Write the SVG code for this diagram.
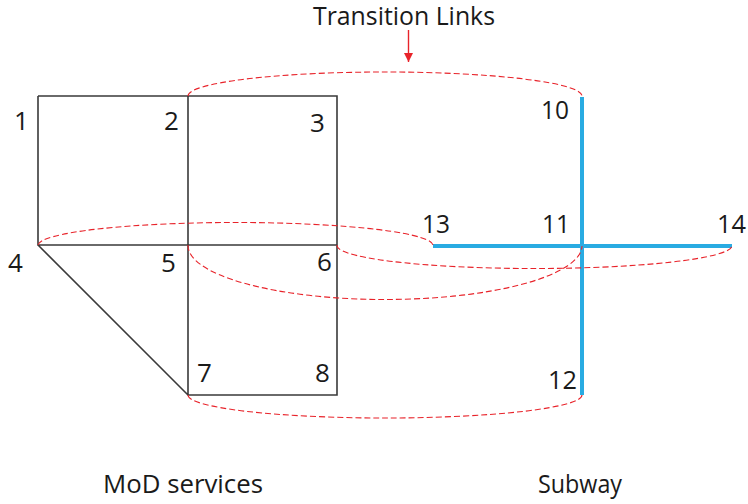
<svg xmlns="http://www.w3.org/2000/svg" width="748" height="504" viewBox="0 0 748 504">
  <style>
    .lbl { font-family: "Open Sans", "Noto Sans", "Liberation Sans", sans-serif; font-size: 26px; fill: #1a1a1a; }
    .mod { fill: none; stroke: #3a3a3a; stroke-width: 1.6; }
    .sub { fill: none; stroke: #29abe2; stroke-width: 4; }
    .link { fill: none; stroke: #e8232a; stroke-width: 1.1; stroke-dasharray: 6 3; }
  </style>
  <defs>
    <marker id="arrowRed" markerWidth="10" markerHeight="9" refX="9" refY="4.5" orient="auto" markerUnits="userSpaceOnUse">
      <path d="M0,0 L9,4.5 L0,9 Z" fill="#e8232a"/>
    </marker>
  </defs>
  <rect width="748" height="504" fill="#ffffff"/>

  <!-- MoD service network -->
  <g id="mod-network">
    <path class="mod" d="M38,96 H337 V395 H188 V96 M38,96 V245 H337 M38,245 L188,395"/>
  </g>

  <!-- Subway network -->
  <g id="subway-network">
    <path class="sub" d="M582,97 V395 M433,246 H732"/>
  </g>

  <!-- Transition links between the two layers -->
  <g id="transition-links">
    <path class="link" d="M188,96 A197,24 0 0 1 582,96"/>
    <path class="link" d="M38,245 A197.5,23 0 0 1 433,246"/>
    <path class="link" d="M188,245 A197,54 0 0 0 582,246"/>
    <path class="link" d="M337,245 A197.5,23 0 0 0 732,246"/>
    <path class="link" d="M188,395 A197,23 0 0 0 582,395"/>
  </g>

  <!-- Callout -->
  <g id="callout">
    <text class="lbl" x="404" y="25" font-size="22" text-anchor="middle" textLength="182" lengthAdjust="spacingAndGlyphs">Transition Links</text>
    <line x1="408.5" y1="30" x2="408.5" y2="62" stroke="#e8232a" stroke-width="1.4" marker-end="url(#arrowRed)"/>
  </g>

  <!-- Node labels -->
  <g id="node-1"><text class="lbl" x="14" y="130">1</text></g>
  <g id="node-2"><text class="lbl" x="164" y="130">2</text></g>
  <g id="node-3"><text class="lbl" x="310" y="132">3</text></g>
  <g id="node-4"><text class="lbl" x="8" y="272">4</text></g>
  <g id="node-5"><text class="lbl" x="161" y="272">5</text></g>
  <g id="node-6"><text class="lbl" x="317" y="271">6</text></g>
  <g id="node-7"><text class="lbl" x="197" y="382">7</text></g>
  <g id="node-8"><text class="lbl" x="315" y="382">8</text></g>
  <g id="node-10"><text class="lbl" x="541" y="119" textLength="28" lengthAdjust="spacingAndGlyphs">10</text></g>
  <g id="node-11"><text class="lbl" x="542" y="233" textLength="28" lengthAdjust="spacingAndGlyphs">11</text></g>
  <g id="node-12"><text class="lbl" x="548" y="389" textLength="29" lengthAdjust="spacingAndGlyphs">12</text></g>
  <g id="node-13"><text class="lbl" x="422" y="233" textLength="28" lengthAdjust="spacingAndGlyphs">13</text></g>
  <g id="node-14"><text class="lbl" x="717" y="233" textLength="29" lengthAdjust="spacingAndGlyphs">14</text></g>

  <!-- Layer captions -->
  <g id="caption-mod"><text class="lbl" x="103" y="493" textLength="160" lengthAdjust="spacingAndGlyphs">MoD services</text></g>
  <g id="caption-subway"><text class="lbl" x="538" y="493" textLength="84" lengthAdjust="spacingAndGlyphs">Subway</text></g>
</svg>
